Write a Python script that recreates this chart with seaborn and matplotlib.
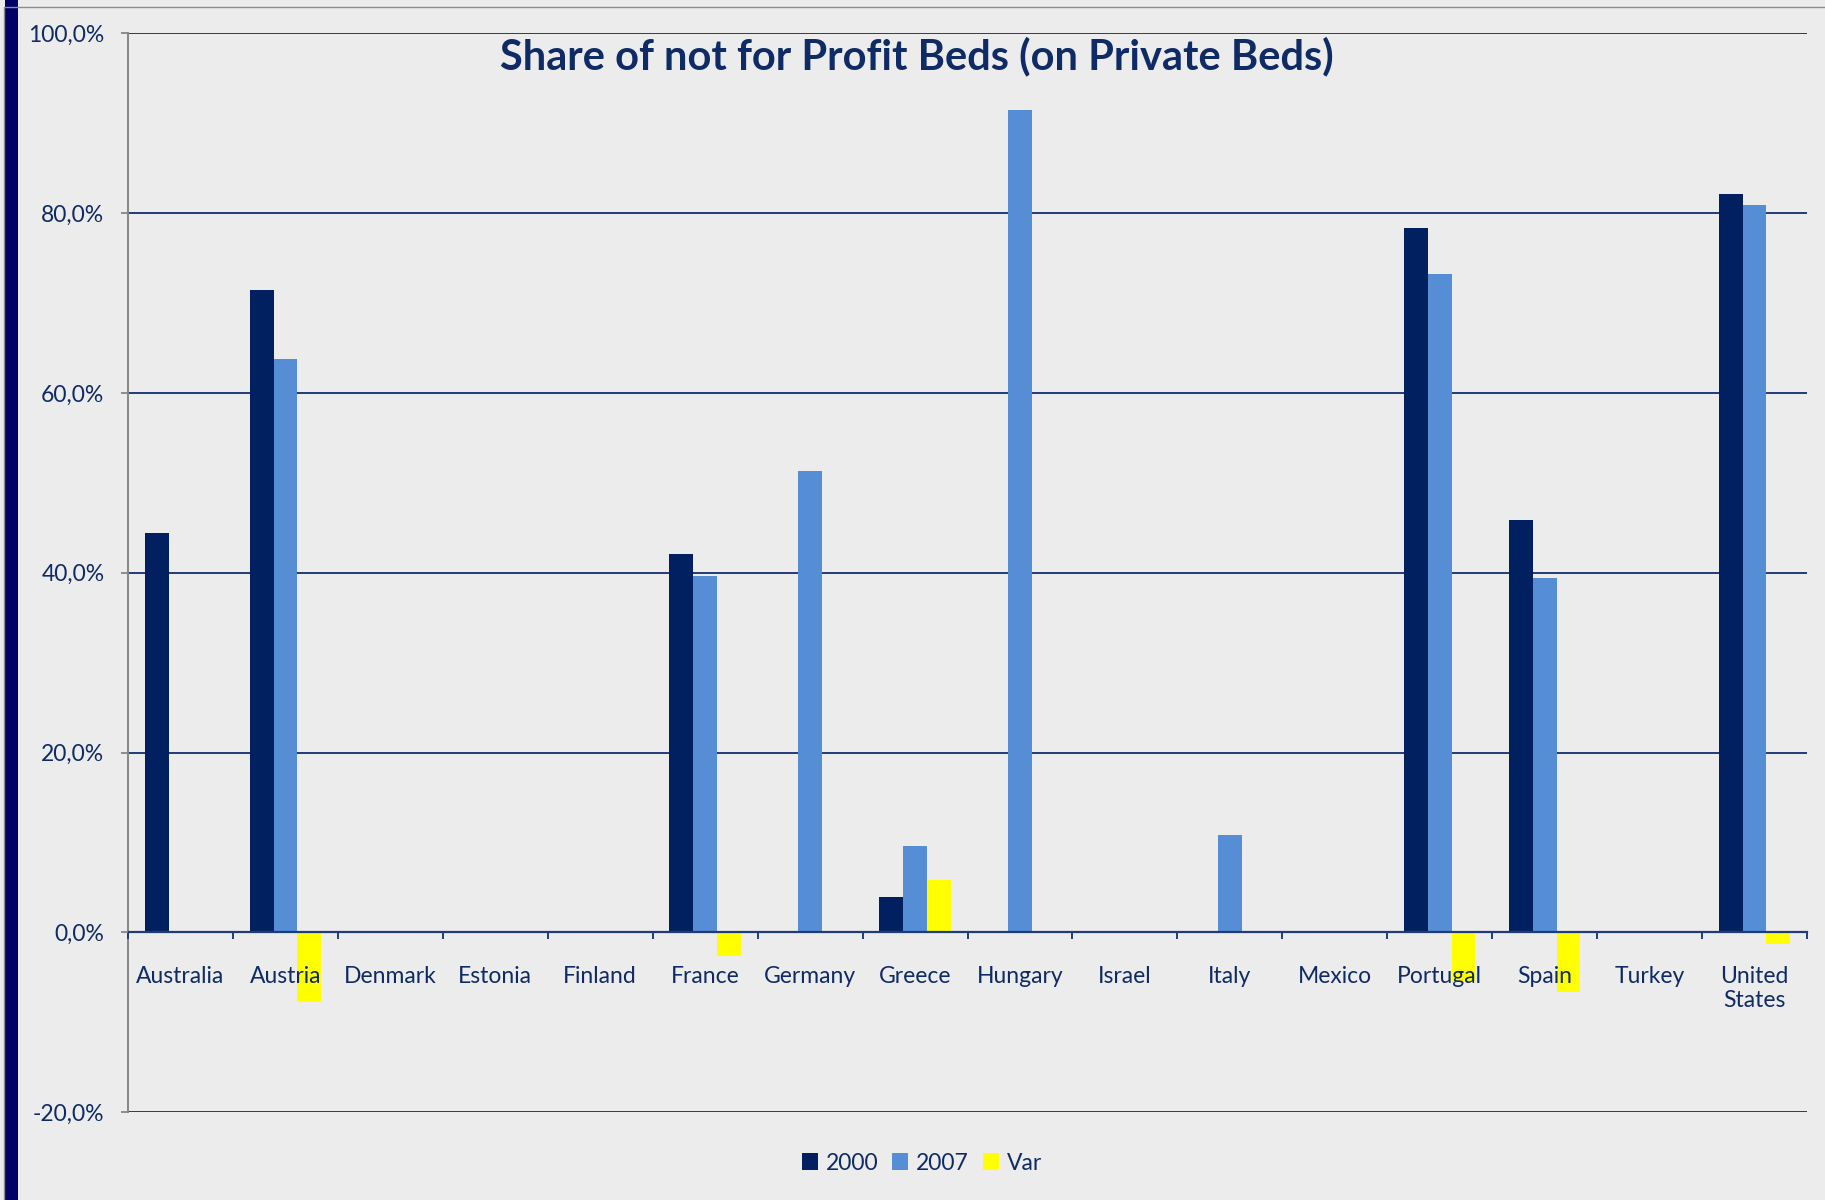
import numpy as np
import pandas as pd
import matplotlib
matplotlib.use("Agg")
import matplotlib.pyplot as plt
import seaborn as sns
from matplotlib.patches import Patch, Rectangle
from matplotlib.lines import Line2D

countries = ["Australia", "Austria", "Denmark", "Estonia", "Finland", "France",
             "Germany", "Greece", "Hungary", "Israel", "Italy", "Mexico",
             "Portugal", "Spain", "Turkey", "United States"]
tick_labels = ["Australia", "Austria", "Denmark", "Estonia", "Finland", "France",
               "Germany", "Greece", "Hungary", "Israel", "Italy", "Mexico",
               "Portugal", "Spain", "Turkey", "United\nStates"]
series = ["2000", "2007", "Var"]
v2000 = [44.4, 71.5, np.nan, np.nan, np.nan, 42.1, np.nan, 3.9, np.nan, np.nan,
         np.nan, np.nan, 78.3, 45.9, np.nan, 82.1]
v2007 = [np.nan, 63.8, np.nan, np.nan, np.nan, 39.6, 51.3, 9.6, 91.5, np.nan,
         10.8, np.nan, 73.2, 39.4, np.nan, 80.9]
vvar = [np.nan, -7.7, np.nan, np.nan, np.nan, -2.6, np.nan, 5.8, np.nan, np.nan,
        np.nan, np.nan, -5.4, -6.6, np.nan, -1.3]
yticks = [-20, 0, 20, 40, 60, 80, 100]
ytick_labels = ["-20,0%", "0,0%", "20,0%", "40,0%", "60,0%", "80,0%", "100,0%"]
title = "Share of not for Profit Beds (on Private Beds)"

colors = {"2000": "#002060", "2007": "#558ED5", "Var": "#FFFF00"}
navy = "#0E2B66"
bg = "#ECECEC"

rows = []
for s, vals in zip(series, [v2000, v2007, vvar]):
    for c, v in zip(countries, vals):
        rows.append({"country": c, "series": s, "value": v})
df = pd.DataFrame(rows)

sns.set_theme(style="white")
plt.rcParams["font.family"] = ["Lato", "DejaVu Sans"]

fig = plt.figure(figsize=(18.25, 12), dpi=100)
fig.patch.set_facecolor(bg)
ax = fig.add_axes([128 / 1825, 1 - 1112.3 / 1200, (1807 - 128) / 1825, (1112.3 - 33.3) / 1200])
ax.set_facecolor("none")

sns.barplot(data=df.dropna(), x="country", y="value", hue="series", order=countries,
            hue_order=series, palette=colors, width=0.68, saturation=1,
            errorbar=None, legend=False, ax=ax, zorder=2, linewidth=0)

ax.set_xlim(-0.5, len(countries) - 0.5)
ax.set_ylim(-20, 100)
ax.set_yticks(yticks)
ax.set_yticklabels(ytick_labels)
ax.set_xticks(range(len(countries)))
ax.set_xticklabels(tick_labels, linespacing=1.5)
ax.set_xticks(np.arange(-0.5, len(countries), 1.0), minor=True)
ax.set_xlabel("")
ax.set_ylabel("")

for y in yticks:
    if y != 0:
        ax.axhline(y, color="#1F3C7A", lw=1.4, zorder=1)

for sp in ["top", "right"]:
    ax.spines[sp].set_visible(False)
ax.spines["bottom"].set_position(("data", 0))
ax.spines["bottom"].set_color("#1F3C7A")
ax.spines["bottom"].set_linewidth(1.6)
ax.spines["left"].set_color("#868686")
ax.spines["left"].set_linewidth(1.4)
ax.xaxis.set_zorder(3)
ax.yaxis.set_zorder(3)

ax.tick_params(axis="y", which="major", length=5, width=1.3, color="#868686",
               labelsize=16.5, labelcolor=navy, pad=12, left=True)
ax.tick_params(axis="x", which="major", length=0, labelsize=16.5, labelcolor=navy, pad=24)
ax.tick_params(axis="x", which="minor", length=5, width=1.4, color="#1F3C7A",
               direction="out", bottom=True)

fig.text(917 / 1825, 1 - 56 / 1200, title, ha="center", va="center",
         fontsize=30, fontweight="bold", color=navy)

handles = [Patch(facecolor=colors[s], edgecolor="none") for s in series]
fig.legend(handles, series, loc="center", bbox_to_anchor=(922 / 1825, 1 - 1163 / 1200),
           ncol=3, frameon=False, fontsize=16.5, labelcolor=navy, handlelength=0.7,
           handleheight=0.7, handletextpad=0.35, columnspacing=0.6)

# left decorative border
fig.add_artist(Rectangle((5 / 1825, 0), 13 / 1825, 1, transform=fig.transFigure,
                         facecolor="#000066", edgecolor="none"))
fig.add_artist(Line2D([4 / 1825, 4 / 1825], [0, 1 - 7 / 1200], transform=fig.transFigure,
                      color="#8C8C8C", lw=1))
fig.add_artist(Line2D([4 / 1825, 1], [1 - 7 / 1200, 1 - 7 / 1200], transform=fig.transFigure,
                      color="#8C8C8C", lw=1))

fig.savefig("out.png", dpi=100, facecolor=bg)
